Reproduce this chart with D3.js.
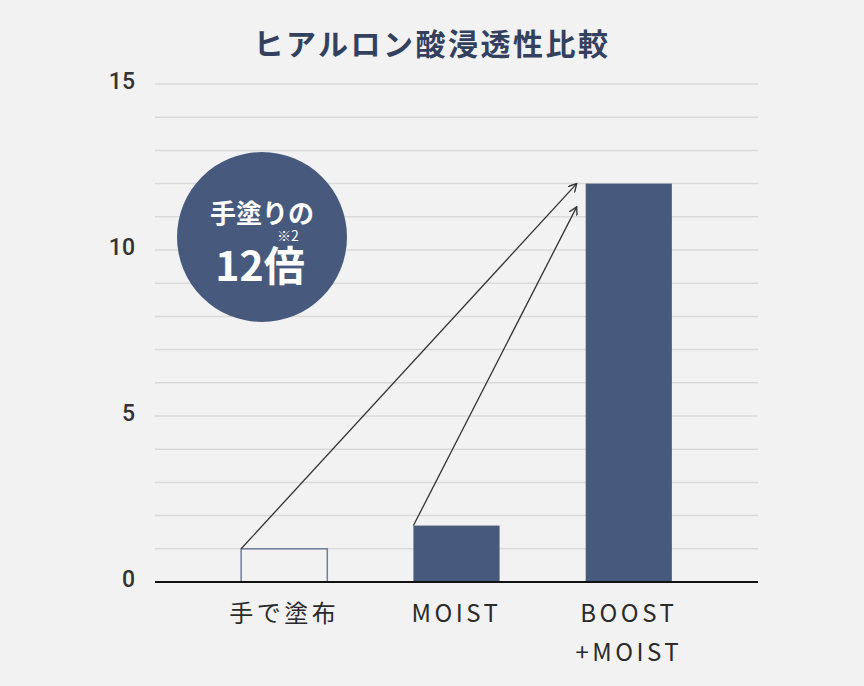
<!DOCTYPE html>
<html>
<head>
<meta charset="utf-8">
<script src="https://cdn.jsdelivr.net/npm/d3@7"></script>
<style>
  body { margin: 0; background: #f2f2f2; }
  svg { display: block; }
  text { font-family: "Noto Sans CJK JP", "Noto Sans", sans-serif; }
</style>
</head>
<body>
<div id="chart"></div>
<script>
const W = 864, H = 686;
const margin = { top: 84, right: 106, bottom: 104, left: 155 };
const width = W - margin.left - margin.right;
const height = H - margin.top - margin.bottom;

// データ
const categories = ["手で塗布", "MOIST", "BOOST\n+MOIST"];
const values = [1, 1.7, 12];
const yTicks = [0, 5, 10, 15];
const arrowTargets = [12, 11.3];   // 矢印の先 (BOOST棒の左側)

const navy = "#475a7e";

const svg = d3.select("#chart")
    .append("svg")
    .attr("width", W)
    .attr("height", H)
    .style("background", "#f2f2f2");

const g = svg.append("g")
    .attr("transform", `translate(${margin.left},${margin.top})`);

const x = d3.scaleBand()
    .domain(categories)
    .range([0, width])
    .paddingInner(0.5)
    .paddingOuter(0.5);

const y = d3.scaleLinear()
    .domain([0, 15])
    .range([height, 0]);

// タイトル
svg.append("text")
    .attr("x", W / 2)
    .attr("y", 42)
    .attr("text-anchor", "middle")
    .attr("dominant-baseline", "central")
    .attr("font-size", 30)
    .attr("font-weight", 700)
    .attr("letter-spacing", 2.5)
    .attr("fill", "#33415f")
    .text("ヒアルロン酸浸透性比較");

// グリッド
g.append("g")
    .selectAll("line")
    .data(d3.range(1, 16))
    .join("line")
    .attr("x1", 0)
    .attr("x2", width)
    .attr("y1", d => y(d))
    .attr("y2", d => y(d))
    .attr("stroke", "#dadada")
    .attr("stroke-width", 1.5);

// Y軸
const yAxis = g.append("g")
    .call(d3.axisLeft(y).tickValues(yTicks).tickSize(0).tickPadding(20));
yAxis.select(".domain").remove();
yAxis.selectAll("text")
    .style("font-size", "23px")
    .style("font-weight", 500)
    .style("font-family", "Roboto, 'Noto Sans', sans-serif")
    .attr("fill", "#333")
    .attr("dy", "0.2em");

// 棒
g.selectAll(".bar")
    .data(values)
    .join("rect")
    .attr("class", "bar")
    .attr("x", (d, i) => x(categories[i]))
    .attr("y", d => y(d))
    .attr("width", x.bandwidth())
    .attr("height", d => height - y(d))
    .attr("fill", (d, i) => i === 0 ? "none" : navy)
    .attr("stroke", (d, i) => i === 0 ? "#6f7f9a" : "none")
    .attr("stroke-width", 1.5);

// ベースライン
g.append("line")
    .attr("x1", 0)
    .attr("x2", width)
    .attr("y1", y(0))
    .attr("y2", y(0))
    .attr("stroke", "#111")
    .attr("stroke-width", 2);

// X軸ラベル
const xl = g.append("g")
    .selectAll("text")
    .data(categories)
    .join("text")
    .attr("x", d => x(d) + x.bandwidth() / 2)
    .attr("y", height + 32)
    .attr("text-anchor", "middle")
    .attr("font-size", 24)
    .attr("letter-spacing", 3.5)
    .attr("fill", "#2b2b2b");
xl.selectAll("tspan")
    .data(d => d.split("\n"))
    .join("tspan")
    .attr("x", function () { return d3.select(this.parentNode).attr("x"); })
    .attr("dy", (d, i) => i === 0 ? "0.35em" : "1.6em")
    .text(d => d);

// 矢印
svg.append("defs").append("marker")
    .attr("id", "arrow")
    .attr("viewBox", "0 0 10 10")
    .attr("refX", 9)
    .attr("refY", 5)
    .attr("markerWidth", 9)
    .attr("markerHeight", 9)
    .attr("markerUnits", "userSpaceOnUse")
    .attr("orient", "auto")
    .append("path")
    .attr("d", "M0,0 L9,5 L0,10")
    .attr("fill", "none")
    .attr("stroke", "#333")
    .attr("stroke-width", 1.5);

const targetX = x(categories[2]) - 9;
g.selectAll(".arrow")
    .data(arrowTargets)
    .join("line")
    .attr("class", "arrow")
    .attr("x1", (d, i) => x(categories[i]))
    .attr("y1", (d, i) => y(values[i]))
    .attr("x2", targetX)
    .attr("y2", d => y(d))
    .attr("stroke", "#333")
    .attr("stroke-width", 1.3)
    .attr("marker-end", "url(#arrow)");

// 吹き出し円
const badge = svg.append("g").attr("transform", "translate(262,237)");
badge.append("circle")
    .attr("r", 85)
    .attr("fill", navy);
badge.append("text")
    .attr("y", -26)
    .attr("text-anchor", "middle")
    .attr("dominant-baseline", "central")
    .attr("font-size", 26)
    .attr("font-weight", 700)
    .attr("fill", "#fff")
    .text("手塗りの");
badge.append("text")
    .attr("x", -2)
    .attr("y", 26)
    .attr("text-anchor", "middle")
    .attr("dominant-baseline", "central")
    .attr("font-size", 41)
    .attr("font-weight", 700)
    .attr("fill", "#fff")
    .text("12倍");
badge.append("text")
    .attr("x", 26)
    .attr("y", -2)
    .attr("text-anchor", "middle")
    .attr("dominant-baseline", "central")
    .attr("font-size", 14)
    .attr("fill", "#fff")
    .text("※2");
</script>
</body>
</html>
